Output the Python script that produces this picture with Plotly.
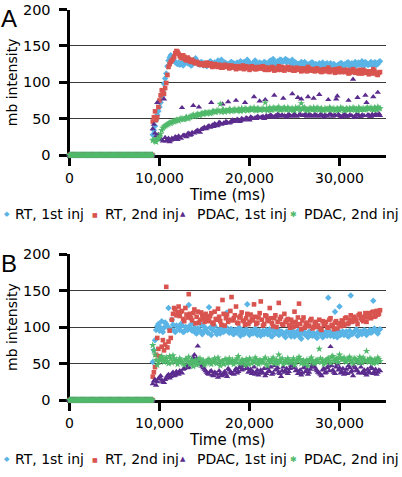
import plotly.graph_objects as go

# ---------------- data ----------------
# flat zero segment before the response starts (0 .. 9,200 ms, every 100 ms)
base_time_ms = list(range(0, 9201, 100))
baseline = [0] * len(base_time_ms)
# response samples: main grid 9,250 .. 34,500 ms and in-between grid 9,375 .. 34,375 ms
time_ms = list(range(9250, 34501, 250))
time_mid_ms = list(range(9375, 34376, 250))

# ---- Panel A ----
A_rt1 = [28, 40, 55, 66, 80, 98, 112, 130, 137, 133, 128, 125,
         124, 127, 125, 130, 126, 123, 128, 133, 125, 124, 127, 126,
         122, 125, 128, 124, 126, 130, 125, 123, 127, 125, 124, 128,
         126, 123, 125, 129, 124, 127, 131, 126, 124, 128, 125, 123,
         126, 124, 127, 125, 129, 126, 128, 124, 127, 131, 129, 132,
         130, 128, 131, 126, 123, 125, 128, 124, 126, 122, 125, 127,
         124, 123, 126, 121, 124, 125, 122, 126, 124, 120, 123, 125,
         126, 122, 124, 127, 123, 121, 128, 125, 124, 129, 123, 126,
         124, 128, 122, 127, 125, 129]
A_rt1_mid = [34, 48, 60, 72, 88, 105, 122, 134, 135, 130, 126, 127,
             125, 123, 128, 126, 129, 124, 127, 130, 126, 128, 123, 125,
             126, 129, 124, 127, 125, 128, 131, 124, 126, 123, 127, 125,
             124, 127, 123, 126, 128, 125, 129, 124, 126, 130, 124, 127,
             125, 128, 124, 126, 130, 132, 127, 129, 131, 128, 130, 127,
             129, 126, 124, 127, 125, 123, 126, 128, 124, 125, 127, 123,
             125, 122, 124, 127, 123, 126, 121, 124, 125, 122, 124, 126,
             123, 125, 127, 122, 126, 124, 123, 127, 125, 122, 128, 124,
             126, 123, 127, 124, 128]
A_rt2 = [46, 60, 52, 75, 89, 84, 99, 121, 128, 132, 140, 142,
         136, 133, 135, 130, 132, 128, 129, 126, 127, 124, 125, 123,
         127, 123, 125, 122, 124, 121, 123, 120, 124, 122, 119, 123,
         121, 118, 122, 120, 123, 119, 121, 117, 122, 120, 118, 121,
         119, 122, 117, 120, 118, 121, 116, 119, 122, 117, 120, 118,
         121, 117, 119, 116, 120, 118, 115, 119, 117, 121, 116, 118,
         115, 119, 117, 114, 118, 116, 120, 115, 117, 113, 116, 119,
         114, 117, 115, 112, 116, 118, 113, 115, 117, 112, 116, 114,
         111, 115, 118, 113, 110, 114]
A_rt2_mid = [52, 48, 66, 82, 86, 92, 110, 125, 130, 135, 143, 139,
             134, 137, 131, 134, 129, 131, 127, 128, 125, 126, 124, 126,
             124, 126, 121, 125, 122, 124, 120, 122, 121, 123, 120, 122,
             120, 122, 119, 121, 118, 122, 120, 119, 121, 118, 120, 119,
             121, 118, 120, 117, 119, 120, 118, 117, 119, 121, 116, 119,
             118, 120, 116, 118, 117, 119, 116, 118, 115, 119, 117, 116,
             118, 116, 115, 117, 115, 118, 114, 117, 116, 118, 114, 116,
             116, 114, 117, 113, 115, 114, 116, 112, 115, 117, 113, 115,
             113, 112, 116, 111, 113]
A_pdac1 = [36, 30, 72, 24, 21, 77, 19, 23, 20, 22, 25, 21,
           24, 65, 27, 25, 30, 28, 68, 32, 34, 31, 36, 38,
           37, 40, 72, 39, 42, 41, 44, 70, 43, 45, 44, 47,
           46, 75, 48, 47, 49, 72, 50, 48, 51, 80, 50, 52,
           51, 53, 76, 52, 54, 53, 82, 52, 55, 54, 78, 53,
           55, 54, 84, 56, 53, 55, 77, 54, 56, 80, 55, 53,
           56, 54, 83, 55, 52, 54, 76, 56, 53, 55, 81, 54,
           52, 55, 53, 75, 54, 104, 52, 79, 53, 55, 54, 72,
           55, 53, 80, 56, 86, 54]
A_pdac1_mid = [42, 26, 28, 22, 19, 24, 21, 18, 23, 21, 24, 26,
               23, 27, 26, 29, 27, 31, 30, 33, 66, 35, 37, 36,
               39, 38, 41, 43, 40, 45, 42, 44, 46, 73, 45, 48,
               47, 49, 46, 50, 48, 51, 49, 52, 50, 51, 53, 74,
               52, 50, 54, 53, 55, 52, 54, 56, 53, 55, 54, 52,
               56, 53, 55, 54, 79, 56, 54, 55, 53, 56, 54, 78,
               55, 53, 56, 54, 55, 53, 56, 55, 54, 77, 56, 53,
               54, 56, 53, 55, 54, 52, 56, 55, 53, 54, 82, 55,
               53, 56, 54, 55, 57]
A_pdac2 = [20, 19, 22, 25, 34, 39, 41, 43, 44, 46, 47, 48,
           49, 50, 49, 52, 51, 53, 55, 54, 56, 55, 57, 58,
           57, 59, 58, 60, 59, 61, 70, 62, 59, 61, 63, 60,
           62, 61, 63, 60, 62, 64, 61, 63, 62, 65, 61, 63,
           62, 64, 72, 61, 65, 62, 64, 63, 66, 62, 64, 63,
           65, 62, 64, 61, 63, 65, 71, 64, 63, 61, 64, 62,
           63, 65, 62, 64, 61, 63, 62, 64, 63, 61, 64, 62,
           63, 61, 64, 62, 63, 65, 62, 61, 64, 63, 62, 64,
           63, 65, 62, 64, 66, 64]
A_pdac2_mid = [21, 18, 23, 29, 37, 40, 42, 44, 45, 46, 48, 47,
               50, 49, 51, 50, 52, 54, 53, 55, 55, 57, 56, 58,
               58, 57, 60, 59, 61, 60, 59, 62, 61, 60, 62, 61,
               63, 61, 62, 64, 61, 63, 62, 64, 63, 62, 64, 62,
               63, 62, 64, 63, 62, 65, 63, 64, 62, 63, 65, 62,
               64, 63, 62, 65, 64, 62, 63, 65, 62, 64, 63, 65,
               62, 64, 63, 62, 64, 63, 65, 62, 64, 63, 62, 65,
               64, 62, 63, 64, 62, 64, 63, 65, 62, 64, 63, 65,
               64, 63, 65, 62, 64]

# ---- Panel B ----
B_rt1 = [52, 82, 101, 95, 108, 99, 104, 126, 97, 103, 93, 100,
         96, 102, 94, 99, 130, 97, 105, 92, 98, 95, 90, 100,
         94, 127, 89, 103, 93, 96, 91, 99, 95, 120, 92, 97,
         90, 94, 98, 88, 95, 92, 131, 89, 93, 96, 91, 94,
         88, 95, 92, 90, 97, 87, 93, 96, 89, 94, 91, 86,
         93, 90, 95, 87, 92, 89, 84, 94, 91, 86, 93, 88,
         90, 85, 92, 89, 87, 93, 140, 88, 91, 121, 86, 128,
         92, 89, 94, 87, 143, 91, 95, 88, 93, 90, 96, 89,
         94, 92, 136, 95, 91, 97]
B_rt1_mid = [68, 96, 104, 99, 93, 106, 101, 97, 110, 95, 102, 98,
             104, 93, 100, 96, 102, 95, 99, 91, 97, 103, 94, 98,
             92, 99, 96, 101, 90, 95, 98, 93, 100, 94, 97, 91,
             96, 92, 99, 94, 90, 97, 93, 95, 91, 98, 89, 95,
             93, 90, 96, 92, 88, 95, 91, 97, 90, 93, 88, 94,
             91, 87, 93, 89, 95, 86, 92, 90, 88, 94, 89, 91,
             87, 93, 90, 86, 92, 88, 94, 90, 87, 92, 95, 89,
             94, 91, 88, 95, 90, 93, 97, 89, 94, 92, 95, 91,
             96, 93, 98, 94, 96]
B_rt2 = [32, 45, 85, 60, 73, 68, 155, 80, 85, 118, 124, 120,
         115, 122, 108, 117, 145, 112, 119, 105, 121, 110, 116, 107,
         113, 109, 119, 104, 111, 125, 108, 137, 102, 117, 110, 141,
         112, 128, 105, 115, 109, 103, 118, 107, 111, 131, 104, 113,
         135, 102, 116, 110, 126, 105, 112, 100, 133, 114, 103, 107,
         111, 99, 106, 121, 102, 132, 97, 113, 104, 101, 109, 98,
         105, 100, 110, 96, 103, 107, 99, 112, 101, 106, 98, 104,
         109, 102, 113, 105, 116, 108, 111, 104, 118, 110, 114, 107,
         119, 112, 121, 115, 117, 123]
B_rt2_mid = [38, 62, 70, 55, 82, 76, 72, 95, 110, 126, 116, 128,
             121, 111, 126, 113, 118, 109, 124, 114, 106, 120, 112, 118,
             108, 115, 106, 121, 110, 114, 103, 118, 112, 107, 122, 109,
             116, 106, 113, 120, 108, 112, 104, 117, 109, 114, 106, 119,
             110, 104, 115, 108, 112, 101, 116, 107, 111, 104, 118, 109,
             103, 110, 100, 107, 113, 104, 109, 99, 106, 102, 111, 100,
             107, 102, 98, 108, 104, 100, 110, 103, 97, 108, 105, 101,
             106, 112, 104, 110, 107, 114, 109, 116, 112, 108, 119, 113,
             116, 120, 114, 122, 118]
B_pdac1 = [22, 28, 25, 31, 27, 24, 30, 35, 32, 38, 34, 36,
           40, 37, 43, 48, 45, 52, 58, 55, 74, 50, 46, 42,
           38, 35, 40, 33, 37, 31, 36, 34, 39, 32, 41, 37,
           35, 43, 39, 46, 42, 48, 44, 40, 36, 45, 38, 34,
           41, 37, 33, 44, 39, 35, 47, 42, 38, 32, 45, 40,
           36, 43, 50, 46, 41, 38, 34, 44, 39, 35, 42, 48,
           45, 40, 37, 33, 43, 38, 46, 73, 41, 36, 49, 44,
           39, 35, 42, 47, 38, 33, 44, 40, 50, 37, 41, 34,
           39, 45, 36, 42, 38, 40]
B_pdac1_mid = [26, 20, 29, 33, 25, 28, 33, 30, 36, 33, 39, 35,
               38, 42, 46, 44, 50, 55, 62, 57, 53, 48, 44, 40,
               36, 39, 34, 38, 35, 40, 33, 37, 35, 43, 38, 36,
               40, 37, 44, 41, 47, 43, 38, 42, 39, 35, 41, 37,
               38, 43, 36, 40, 45, 37, 41, 44, 36, 40, 38, 43,
               39, 47, 44, 40, 36, 41, 37, 46, 42, 38, 45, 50,
               42, 38, 35, 41, 37, 44, 40, 47, 38, 45, 41, 37,
               43, 38, 36, 44, 40, 46, 41, 37, 45, 39, 36, 42,
               37, 43, 39, 35, 41]
B_pdac2 = [75, 62, 48, 55, 60, 52, 58, 50, 56, 61, 53, 49,
           57, 52, 48, 55, 59, 51, 46, 54, 50, 57, 53, 48,
           52, 56, 49, 54, 51, 58, 47, 53, 55, 50, 57, 52,
           49, 54, 60, 51, 55, 48, 53, 57, 50, 52, 56, 49,
           54, 51, 58, 47, 53, 56, 50, 55, 62, 52, 49, 54,
           57, 51, 53, 48, 55, 59, 50, 54, 52, 47, 56, 53,
           50, 55, 70, 52, 49, 54, 57, 51, 60, 53, 56, 62,
           55, 58, 52, 57, 54, 50, 56, 53, 59, 51, 55, 67,
           52, 56, 50, 54, 58, 53]
B_pdac2_mid = [68, 55, 52, 58, 54, 57, 53, 60, 51, 57, 55, 52,
               54, 50, 56, 53, 49, 55, 52, 48, 56, 51, 54, 50,
               55, 51, 53, 57, 50, 54, 52, 49, 56, 53, 51, 55,
               52, 57, 50, 54, 52, 56, 49, 55, 53, 58, 51, 54,
               52, 56, 49, 55, 52, 58, 53, 50, 55, 57, 52, 51,
               55, 53, 57, 51, 54, 56, 52, 49, 55, 53, 58, 51,
               54, 52, 57, 55, 51, 56, 53, 59, 54, 57, 52, 58,
               56, 53, 55, 59, 52, 57, 54, 51, 56, 58, 53, 55,
               57, 52, 55, 51, 56]

series_names = ["RT, 1st inj", "RT, 2nd inj", "PDAC, 1st inj", "PDAC, 2nd inj"]
x_ticks = [0, 10000, 20000, 30000]
y_ticks = [0, 50, 100, 150, 200]

# ---------------- style ----------------
colors = ["#5AB4E6", "#D9544F", "#5B2C8E", "#50B96B"]
symbols = ["diamond", "square", "triangle-up", "star"]
sizes = [5, 4.6, 5.6, 5.6]
legend_glyphs = ["\u25C6", "\u25A0", "\u25B2", "\u2731"]
glyph_sizes = [7, 6, 7, 8]

W, H = 402, 477
FONT = "DejaVu Sans"

def px(x):
    return x / W

def py(y):
    return 1 - y / H

panels = [
    dict(letter="A", data=[(A_rt1, A_rt1_mid), (A_rt2, A_rt2_mid),
                           (A_pdac1, A_pdac1_mid), (A_pdac2, A_pdac2_mid)],
         xa="x", ya="y", top=9.5, bottom=155),
    dict(letter="B", data=[(B_rt1, B_rt1_mid), (B_rt2, B_rt2_mid),
                           (B_pdac1, B_pdac1_mid), (B_pdac2, B_pdac2_mid)],
         xa="x2", ya="y2", top=254, bottom=400),
]

fig = go.Figure()
for p in panels:
    for name, (vals, mids), c, s, sz in zip(series_names, p["data"], colors, symbols, sizes):
        assert len(vals) == len(time_ms), (name, len(vals))
        assert len(mids) == len(time_mid_ms), (name, len(mids))
        fig.add_trace(go.Scatter(
            x=base_time_ms + time_ms + time_mid_ms, y=baseline + vals + mids,
            mode="markers", name=name,
            marker=dict(color=c, symbol=s, size=sz, line=dict(width=0)),
            xaxis=p["xa"], yaxis=p["ya"], cliponaxis=False, showlegend=False,
        ))

x_dom = [px(69.5), px(385.7)]
xcommon = dict(domain=x_dom, range=[0, 35130], tickvals=x_ticks, tickformat=",",
               showline=True, linecolor="black", linewidth=3, ticks="outside",
               ticklen=8, tickwidth=2.5, tickcolor="black", showgrid=False,
               zeroline=False, layer="below traces", automargin=False,
               tickfont=dict(family=FONT, size=14, color="black"))
ycommon = dict(range=[0, 200], tickvals=y_ticks, showline=True, linecolor="black",
               linewidth=3, ticks="outside", ticklen=8, tickwidth=2.5,
               tickcolor="black", showgrid=True, gridcolor="#3a3a3a", gridwidth=1,
               zeroline=False, layer="below traces", ticklabelstandoff=5,
               automargin=False,
               tickfont=dict(family=FONT, size=14.5, color="black"))

fig.update_layout(
    width=W, height=H, margin=dict(l=0, r=0, t=0, b=0), autosize=False,
    paper_bgcolor="white", plot_bgcolor="white", showlegend=False,
    xaxis=dict(**xcommon, anchor="y"),
    yaxis=dict(**ycommon, domain=[py(155), py(9.5)], anchor="x"),
    xaxis2=dict(**xcommon, anchor="y2"),
    yaxis2=dict(**ycommon, domain=[py(400), py(254)], anchor="x2"),
)

ann = []
leg_sym_x = [7.3, 95, 183.3, 293.3]
leg_txt_x = [12.7, 103, 195, 302]
for p in panels:
    off = p["bottom"] - 155
    mid = (p["top"] + p["bottom"]) / 2
    ann.append(dict(text=p["letter"], x=px(9), y=py(p["top"] + 9), xref="paper", yref="paper",
                    showarrow=False, xanchor="center", yanchor="middle",
                    font=dict(family="Liberation Sans", size=24, color="black")))
    ann.append(dict(text="mb intensity", x=px(12), y=py(mid), xref="paper", yref="paper",
                    showarrow=False, textangle=-90, xanchor="center", yanchor="middle",
                    font=dict(family=FONT, size=14, color="black")))
    ann.append(dict(text="Time (ms)", x=px((69.5 + 385.7) / 2), y=py(195 + off),
                    xref="paper", yref="paper", showarrow=False,
                    xanchor="center", yanchor="middle",
                    font=dict(family=FONT, size=15, color="black")))
    for name, c, g, gs, sx, tx in zip(series_names, colors, legend_glyphs, glyph_sizes,
                                      leg_sym_x, leg_txt_x):
        ann.append(dict(text=g, x=px(sx), y=py(214 + off), xref="paper", yref="paper",
                        showarrow=False, xanchor="center", yanchor="middle",
                        font=dict(family=FONT, size=gs, color=c)))
        ann.append(dict(text=name, x=px(tx), y=py(214 + off), xref="paper", yref="paper",
                        showarrow=False, xanchor="left", yanchor="middle",
                        font=dict(family=FONT, size=14, color="black")))
fig.update_layout(annotations=ann)

page_fix = (
    "document.documentElement.style.margin='0px';"
    "document.documentElement.style.overflow='hidden';"
    "document.body.style.margin='0px';"
    "document.body.style.overflow='hidden';"
    "var gds=document.getElementsByClassName('plotly-graph-div');"
    "for(var i=0;i<gds.length;i++){gds[i].style.position='fixed';"
    "gds[i].style.left='0px';gds[i].style.top='0px';}"
)
fig.write_html("out.html", config={"displayModeBar": False}, post_script=page_fix)
